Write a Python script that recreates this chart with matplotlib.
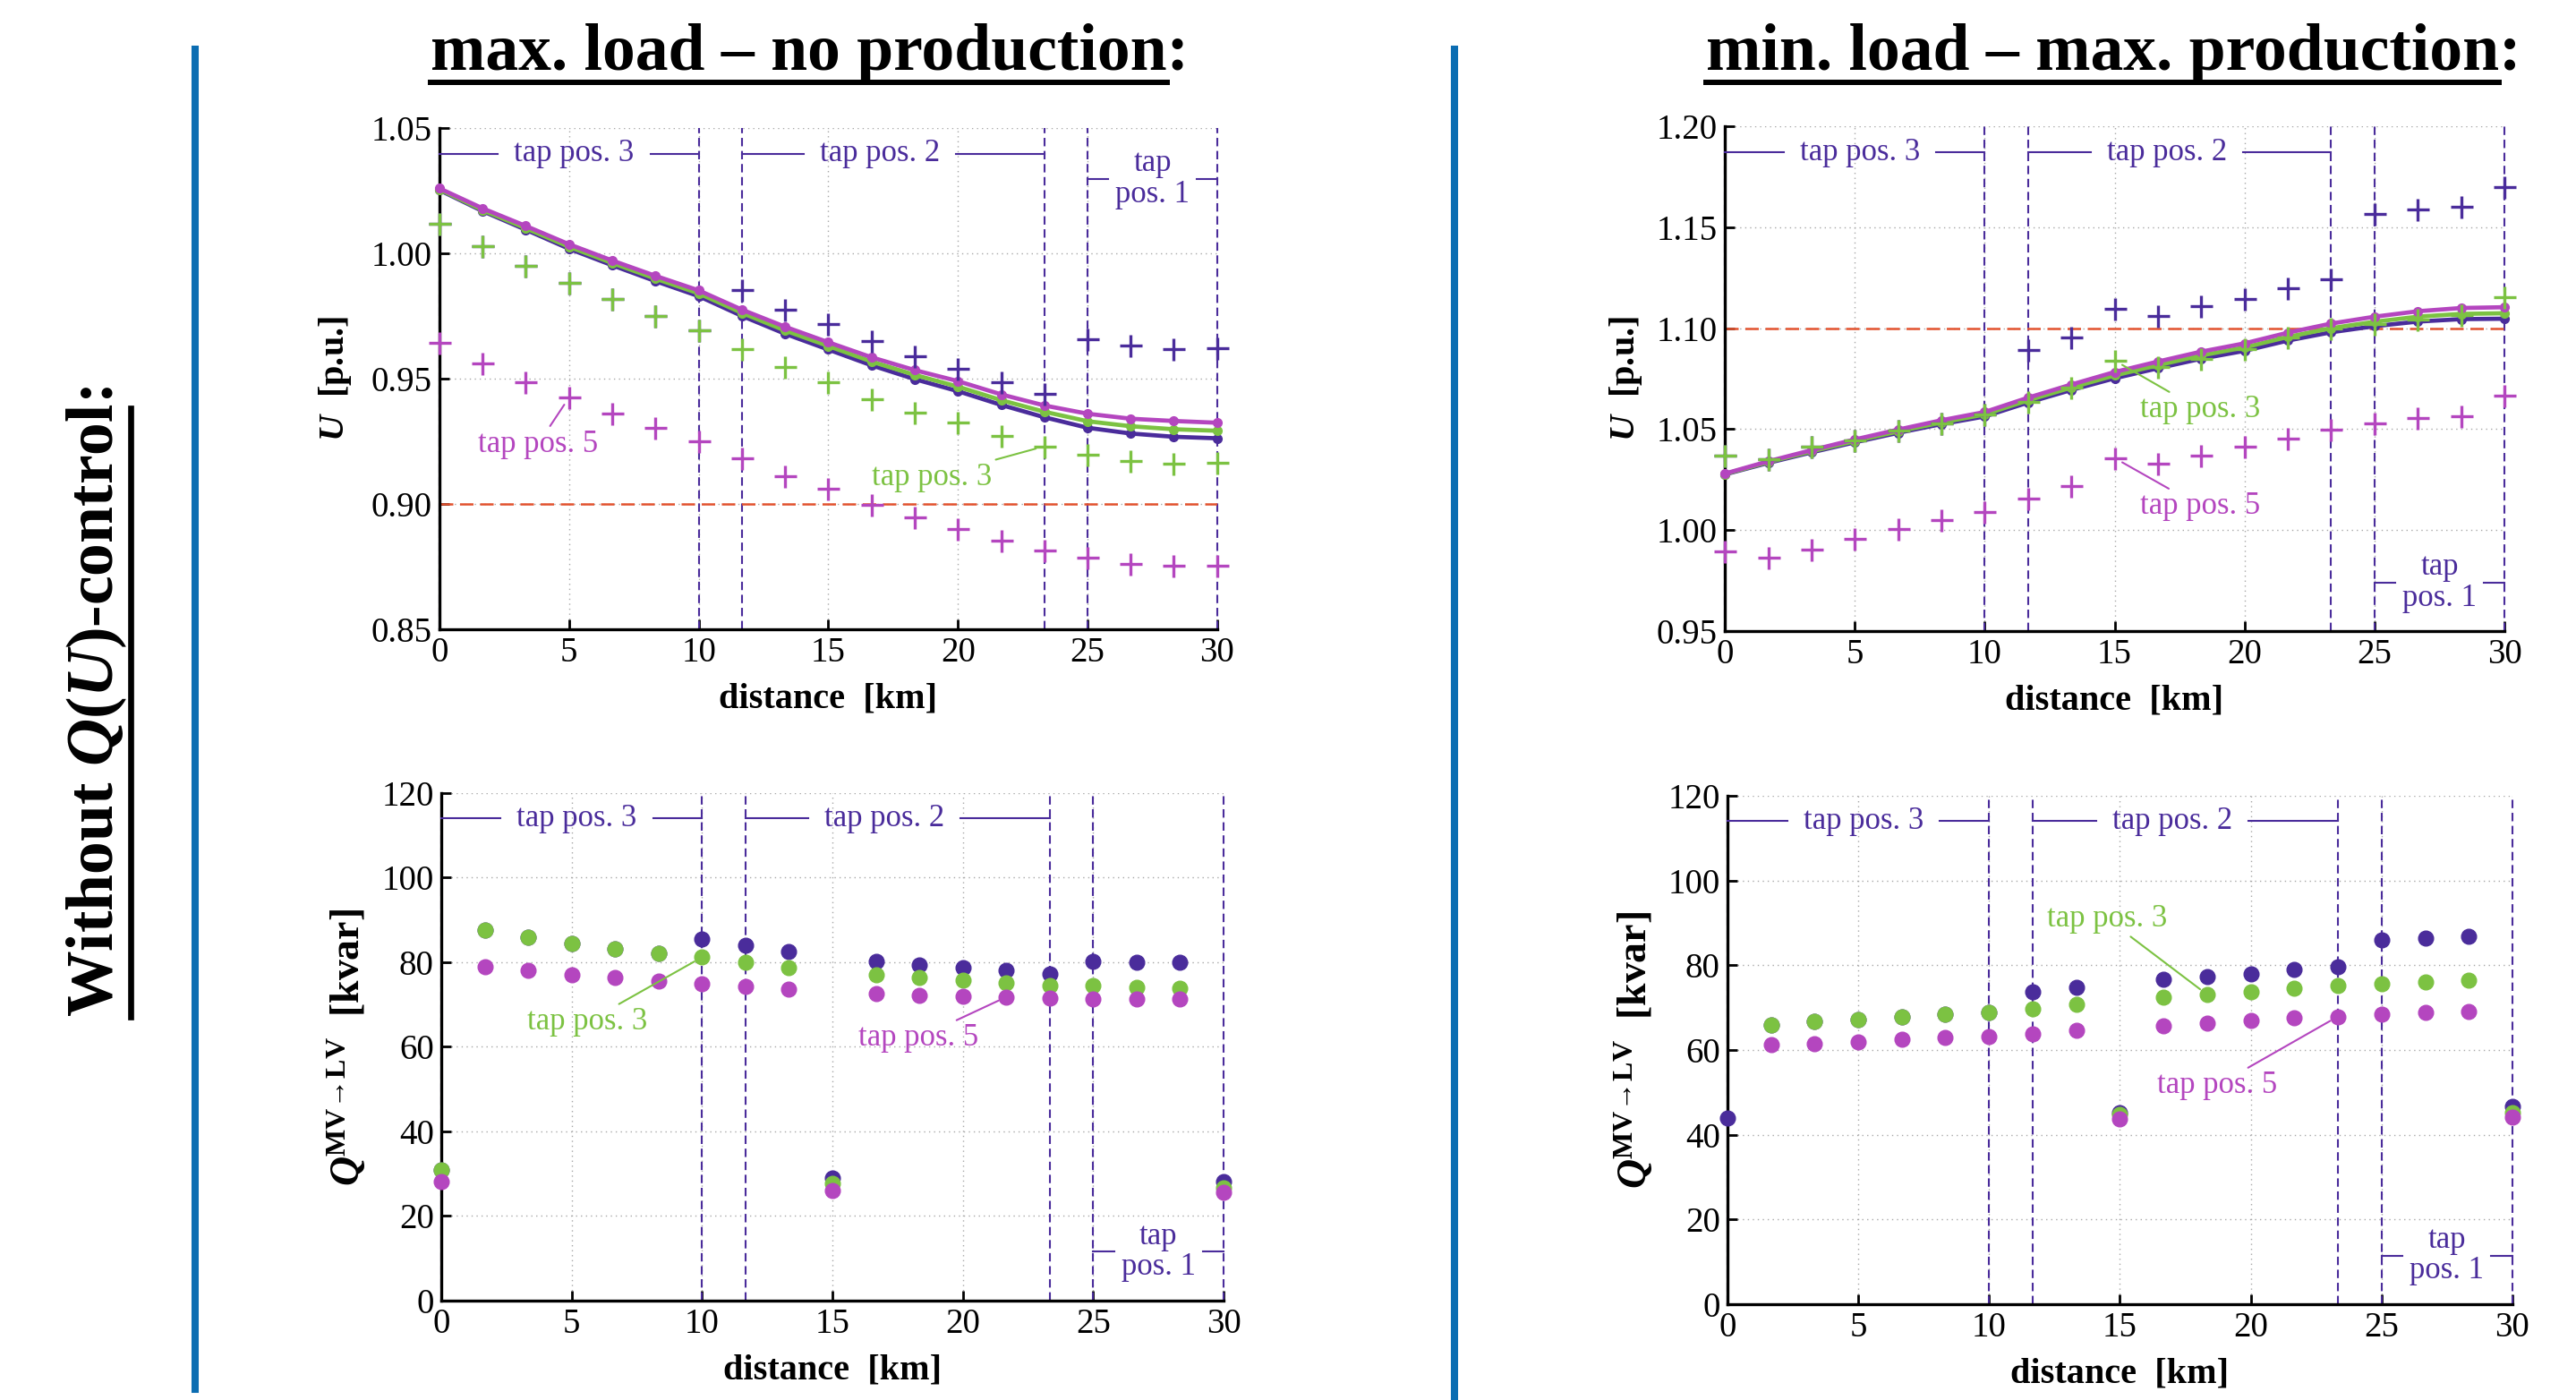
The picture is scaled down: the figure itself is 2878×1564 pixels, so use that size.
import matplotlib
matplotlib.use("Agg")
import matplotlib.pyplot as plt
from matplotlib.lines import Line2D

plt.rcParams["font.family"] = ["Liberation Serif", "DejaVu Serif"]
plt.rcParams["mathtext.fontset"] = "custom"
plt.rcParams["mathtext.rm"] = "Liberation Serif"
plt.rcParams["mathtext.it"] = "Liberation Serif:italic"
plt.rcParams["mathtext.bf"] = "Liberation Serif:bold"
try:
    plt.rcParams["mathtext.bfit"] = "Liberation Serif:bold:italic"
except KeyError:
    pass

INDIGO = "#4a2c9b"
GREEN = "#7cc242"
MAGENTA = "#b446bf"
RED = "#e2522e"
BAR = "#0b6db2"

# distance of the nodes [km]
dist = [0, 1.67, 3.33, 5, 6.67, 8.33, 10, 11.67, 13.33, 15, 16.67,
        18.33, 20, 21.67, 23.33, 25, 26.67, 28.33, 30]
bounds = [0, 10, 11.67, 23.33, 25, 30]
tap_spans = [(0, 10), (11.67, 23.33), (25, 30)]
tap_names = ["tap pos. 3", "tap pos. 2", "tap\npos. 1"]
tap_centers = [5.2, 17.0, 27.5]

# --- max. load / no production: voltage ---
u1_line_blue = [1.0252, 1.0168, 1.0094, 1.0018, 0.9952, 0.9889, 0.9829, 0.9750, 0.9679, 0.9616,
                0.9553, 0.9498, 0.9450, 0.9395, 0.9346, 0.9304, 0.9281, 0.9268, 0.9262]
u1_line_green = [1.0255, 1.0172, 1.0100, 1.0026, 0.9961, 0.9899, 0.9840, 0.9762, 0.9692, 0.9630,
                 0.9568, 0.9515, 0.9468, 0.9414, 0.9368, 0.9330, 0.9310, 0.9298, 0.9292]
u1_line_mag = [1.0259, 1.0179, 1.0109, 1.0036, 0.9971, 0.9910, 0.9852, 0.9775, 0.9707, 0.9645,
               0.9585, 0.9534, 0.9490, 0.9437, 0.9393, 0.9360, 0.9340, 0.9331, 0.9324]
u1_plus_blue = [1.0117, 1.0028, 0.9950, 0.9881, 0.9816, 0.9751, 0.9694, 0.9852, 0.9775, 0.9718,
                0.9650, 0.9588, 0.9539, 0.9487, 0.9441, 0.9658, 0.9632, 0.9617, 0.9621]
u1_plus_green = [1.0117, 1.0028, 0.9950, 0.9881, 0.9816, 0.9751, 0.9694, 0.9617, 0.9547, 0.9487,
                 0.9417, 0.9365, 0.9324, 0.9270, 0.9230, 0.9197, 0.9173, 0.9161, 0.9165]
u1_plus_mag = [0.9642, 0.9560, 0.9487, 0.9425, 0.9360, 0.9303, 0.9251, 0.9181, 0.9112, 0.9059,
               0.8998, 0.8945, 0.8901, 0.8855, 0.8814, 0.8785, 0.8761, 0.8752, 0.8752]

# --- min. load / max. production: voltage ---
u2_line_blue = [1.0276, 1.0333, 1.0385, 1.0435, 1.0482, 1.0525, 1.0563, 1.0632, 1.0694, 1.0752,
                1.0802, 1.0849, 1.0888, 1.0939, 1.0980, 1.1010, 1.1033, 1.1045, 1.1047]
u2_line_green = [1.0278, 1.0337, 1.0390, 1.0441, 1.0489, 1.0533, 1.0573, 1.0643, 1.0706, 1.0766,
                 1.0817, 1.0865, 1.0905, 1.0957, 1.1000, 1.1032, 1.1057, 1.1071, 1.1074]
u2_line_mag = [1.0280, 1.0341, 1.0396, 1.0449, 1.0498, 1.0544, 1.0585, 1.0656, 1.0721, 1.0783,
               1.0835, 1.0884, 1.0925, 1.0978, 1.1023, 1.1057, 1.1084, 1.1100, 1.1104]
u2_plus_blue = [1.0371, 1.0350, 1.0412, 1.0443, 1.0494, 1.0530, 1.0575, 1.0890, 1.0952, 1.1094,
                1.1060, 1.1108, 1.1145, 1.1196, 1.1241, 1.1566, 1.1589, 1.1603, 1.1701]
u2_plus_green = [1.0371, 1.0350, 1.0412, 1.0443, 1.0494, 1.0530, 1.0575, 1.0636, 1.0707, 1.0840,
                 1.0809, 1.0850, 1.0897, 1.0952, 1.0998, 1.1019, 1.1043, 1.1064, 1.1155]
u2_plus_mag = [0.9893, 0.9862, 0.9903, 0.9958, 1.0005, 1.0050, 1.0090, 1.0158, 1.0219, 1.0357,
               1.0327, 1.0371, 1.0412, 1.0453, 1.0498, 1.0530, 1.0555, 1.0565, 1.0667]

# --- reactive power MV->LV [kvar] ---
q1_blue = [30.9, 87.6, 86.0, 84.5, 83.2, 82.1, 85.5, 84.0, 82.6, 28.9,
           80.3, 79.4, 78.8, 78.0, 77.2, 80.3, 80.1, 79.9, 28.1]
q1_green = [30.9, 87.6, 86.0, 84.5, 83.2, 82.1, 81.2, 79.9, 78.8, 27.7,
            77.0, 76.3, 75.8, 75.2, 74.6, 74.4, 74.1, 73.9, 26.7]
q1_mag = [28.1, 78.9, 78.0, 77.0, 76.3, 75.6, 74.9, 74.2, 73.6, 26.0,
          72.5, 72.2, 72.0, 71.8, 71.6, 71.4, 71.4, 71.3, 25.5]

q2_blue = [43.9, 66.0, 66.7, 67.2, 67.8, 68.4, 68.9, 73.8, 74.7, 45.2,
           76.6, 77.4, 78.0, 79.0, 79.7, 86.0, 86.5, 86.8, 46.7]
q2_green = [None, 66.0, 66.7, 67.2, 67.8, 68.4, 68.9, 69.8, 70.8, 44.8,
            72.5, 73.1, 73.8, 74.5, 75.2, 75.7, 76.1, 76.4, 45.2]
q2_mag = [None, 61.2, 61.5, 62.0, 62.5, 62.9, 63.2, 63.9, 64.6, 43.8,
          65.8, 66.4, 66.9, 67.5, 67.9, 68.4, 68.8, 69.1, 44.1]

fig = plt.figure(figsize=(28.78, 15.64), dpi=100)
ax_tl = fig.add_axes([0.1706, 0.5505, 0.3019, 0.3581])
ax_tr = fig.add_axes([0.6696, 0.5492, 0.3026, 0.3606])
ax_bl = fig.add_axes([0.1713, 0.0710, 0.3037, 0.3625])
ax_br = fig.add_axes([0.6706, 0.0684, 0.3047, 0.3632])

u_label = r"$\mathbfit{U}$  [p.u.]"
q_label = r"$\mathbfit{Q}^{\mathbf{MV\!\rightarrow\! LV}}$  [kvar]"


def setup(ax, ylim, yticks, fmt, ylabel, lab_x, lab_size):
    ax.set_xlim(0, 30)
    ax.set_ylim(*ylim)
    ax.set_xticks([0, 5, 10, 15, 20, 25, 30])
    ax.set_yticks(yticks)
    ax.set_yticklabels([fmt % v for v in yticks])
    ax.grid(True, color="#a8a8a8", lw=1.0, linestyle=(0, (1, 3)))
    ax.set_axisbelow(True)
    for s in ["top", "right"]:
        ax.spines[s].set_visible(False)
    for s in ["left", "bottom"]:
        ax.spines[s].set_linewidth(2.4)
        ax.spines[s].set_color("black")
        ax.spines[s].set_zorder(3)
    ax.tick_params(direction="in", length=8, width=2, labelsize=28, pad=6)
    ax.set_xlabel("distance  [km]", fontsize=29, fontweight="bold", labelpad=10)
    ax.set_ylabel(ylabel, fontsize=lab_size, fontweight="bold")
    ax.yaxis.set_label_coords(lab_x, 0.5)
    for b in bounds:
        ax.axvline(b, color=INDIGO, lw=1.5, dashes=(4.5, 2.5), zorder=1.5, clip_on=False)


setup(ax_tl, (0.85, 1.05), [0.85, 0.90, 0.95, 1.00, 1.05], "%.2f", u_label, -0.11, 29)
setup(ax_tr, (0.95, 1.20), [0.95, 1.00, 1.05, 1.10, 1.15, 1.20], "%.2f", u_label, -0.104, 29)
setup(ax_bl, (0, 120), [0, 20, 40, 60, 80, 100, 120], "%d", q_label, -0.093, 33)
setup(ax_br, (0, 120), [0, 20, 40, 60, 80, 100, 120], "%d", q_label, -0.091, 33)

# voltage plots
for ax, lines, pluses, limit in [
        (ax_tl, (u1_line_blue, u1_line_green, u1_line_mag),
         (u1_plus_blue, u1_plus_green, u1_plus_mag), 0.90),
        (ax_tr, (u2_line_blue, u2_line_green, u2_line_mag),
         (u2_plus_blue, u2_plus_green, u2_plus_mag), 1.10)]:
    ax.axhline(limit, color=RED, lw=1.8, dashes=(6, 3), zorder=2)
    for vals, c in zip(lines, (INDIGO, GREEN, MAGENTA)):
        ax.plot(dist, vals, color=c, lw=3.4, marker="o", ms=7, zorder=4, clip_on=False)
    for vals, c in zip(pluses, (INDIGO, GREEN, MAGENTA)):
        ax.plot(dist, vals, ls="none", color=c, marker="+", ms=18, mew=2.4, zorder=5, clip_on=False)

# reactive power plots
for ax, series in [(ax_bl, (q1_blue, q1_green, q1_mag)),
                   (ax_br, (q2_blue, q2_green, q2_mag))]:
    for vals, c in zip(series, (INDIGO, GREEN, MAGENTA)):
        v = [float("nan") if q is None else q for q in vals]
        ax.plot(dist, v, ls="none", color=c, marker="o", ms=12, zorder=5, clip_on=False)


def note(ax, text, color, xy, xytext):
    ax.annotate(text, xy=xy, xytext=xytext, textcoords="data", color=color,
                fontsize=25, ha="center", va="center", zorder=6,
                arrowprops=dict(arrowstyle="-", color=color, lw=1.5, shrinkA=1, shrinkB=7))


note(ax_tl, "tap pos. 5", MAGENTA, (dist[3], u1_plus_mag[3]), (3.8, 0.9238))
note(ax_tl, "tap pos. 3", GREEN, (dist[14], u1_plus_green[14]), (19.0, 0.9107))
note(ax_tr, "tap pos. 3", GREEN, (dist[9], u2_plus_green[9]), (18.3, 1.0596))
note(ax_tr, "tap pos. 5", MAGENTA, (dist[9], u2_plus_mag[9]), (18.3, 1.0117))
note(ax_bl, "tap pos. 3", GREEN, (dist[6], q1_green[6]), (5.6, 65.9))
note(ax_bl, "tap pos. 5", MAGENTA, (dist[13], q1_mag[13]), (18.3, 62.1))
note(ax_br, "tap pos. 3", GREEN, (dist[11], q2_green[11]), (14.5, 91.0))
note(ax_br, "tap pos. 5", MAGENTA, (dist[14], q2_mag[14]), (18.7, 51.6))

# tap position labels
tap_texts = []
for ax, y_top, y_p1 in [(ax_tl, 1.0397, 1.0296), (ax_tr, 1.187, 0.974),
                        (ax_bl, 114.05, 11.6), (ax_br, 114.06, 11.5)]:
    for i, ((x0, x1), name, xc) in enumerate(zip(tap_spans, tap_names, tap_centers)):
        y = y_p1 if i == 2 else y_top
        t = ax.text(xc, y, name, ha="center", va="center", color=INDIGO,
                    fontsize=25, linespacing=1.05, multialignment="center", zorder=6)
        tap_texts.append((ax, t, x0, x1, y, 8 if i == 2 else 18))

# titles
titles = [
    fig.text(905 / 2878, 1 - 78 / 1564, "max. load \u2013 no production:", ha="center",
             va="baseline", fontsize=53, fontweight="bold"),
    fig.text(2361 / 2878, 1 - 78 / 1564, "min. load \u2013 max. production:", ha="center",
             va="baseline", fontsize=53, fontweight="bold"),
]
side = fig.text(108 / 2878, 1 - 784 / 1564, r"Without $\mathbfit{Q}$($\mathbfit{U}$)-control:",
                rotation=90, ha="center", va="center", fontsize=53, fontweight="bold")

# blue separators
fig.add_artist(Line2D([218 / 2878] * 2, [1 - 55 / 1564, 1 - 1552 / 1564],
                      transform=fig.transFigure, color=BAR, lw=5.8))
fig.add_artist(Line2D([1625 / 2878] * 2, [1 - 55 / 1564, 0],
                      transform=fig.transFigure, color=BAR, lw=5.8))

fig.canvas.draw()
r = fig.canvas.get_renderer()
W, H = fig.bbox.width, fig.bbox.height

for ax, t, x0, x1, y, pad in tap_texts:
    bb = t.get_window_extent(r)
    inv = ax.transData.inverted()
    xl = inv.transform((bb.x0 - pad, 0))[0]
    xr = inv.transform((bb.x1 + pad, 0))[0]
    ax.plot([x0, xl], [y, y], color=INDIGO, lw=1.5, zorder=6, clip_on=False)
    ax.plot([xr, x1], [y, y], color=INDIGO, lw=1.5, zorder=6, clip_on=False)

colon = fig.text(0, 0, ":", fontsize=53, fontweight="bold")
cw = colon.get_window_extent(r).width
colon.remove()

for t in titles:
    bb = t.get_window_extent(r)
    yy = (bb.y0 + 2) / H
    fig.add_artist(Line2D([bb.x0 / W, (bb.x1 - cw) / W], [yy, yy],
                          transform=fig.transFigure, color="black", lw=4.3))

bb = side.get_window_extent(r)
xx = (bb.x1 + 2) / W
fig.add_artist(Line2D([xx, xx], [bb.y0 / H, (bb.y1 - cw) / H],
                      transform=fig.transFigure, color="black", lw=4.8))

fig.savefig("out.png", dpi=100)
